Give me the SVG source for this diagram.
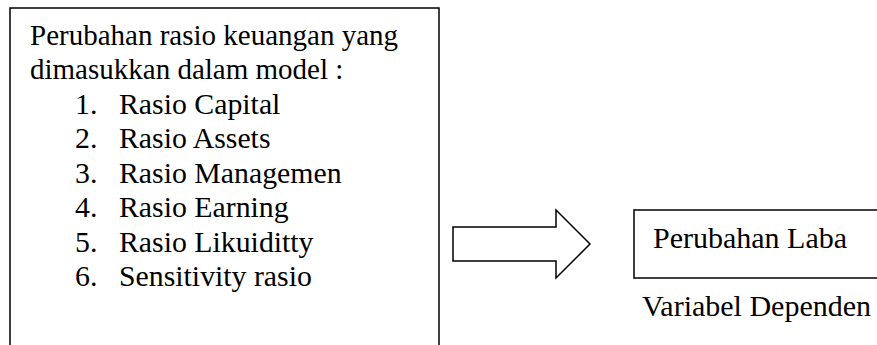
<svg xmlns="http://www.w3.org/2000/svg" width="877" height="345" viewBox="0 0 877 345">
<style>
.t{font-family:"Liberation Serif","Times New Roman",serif;font-size:29px;fill:#000}
.l{font-size:29.8px}
.r{font-size:30px}
.s{fill:none;stroke:#000;stroke-width:1.5}
</style>
<rect width="877" height="345" fill="#fff"/>
<g id="node-input">
<path class="s" d="M10,350 L10,8 L439,8 L439,350"/>
<text class="t" x="30" y="45">Perubahan rasio keuangan yang</text>
<text class="t" x="30" y="79">dimasukkan dalam model :</text>
<text class="t l" x="75" y="114">1.</text><text class="t l" x="119" y="114">Rasio Capital</text>
<text class="t l" x="75" y="148">2.</text><text class="t l" x="119" y="148">Rasio Assets</text>
<text class="t l" x="75" y="183">3.</text><text class="t l" x="119" y="183">Rasio Managemen</text>
<text class="t l" x="75" y="217">4.</text><text class="t l" x="119" y="217">Rasio Earning</text>
<text class="t l" x="75" y="252">5.</text><text class="t l" x="119" y="252">Rasio Likuiditty</text>
<text class="t l" x="75" y="286">6.</text><text class="t l" x="119" y="286">Sensitivity rasio</text>
</g>
<g id="connectors">
<path class="s" d="M453,227 L556,227 L556,210 L590,244 L556,278 L556,261 L453,261 Z"/>
</g>
<g id="node-output">
<path class="s" d="M880,210 L634,210 L634,278 L880,278"/>
<text class="t r" x="653" y="248">Perubahan Laba</text>
</g>
<text class="t r" x="642" y="316">Variabel Dependen</text>
</svg>
